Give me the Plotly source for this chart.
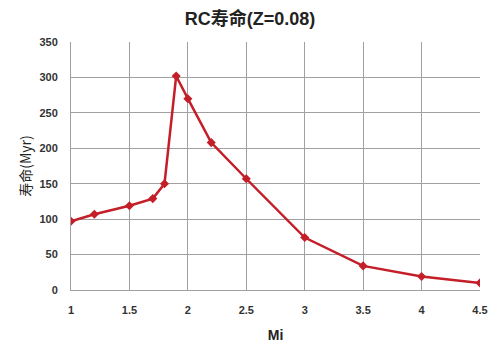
import plotly.graph_objects as go

mass = [1, 1.2, 1.5, 1.7, 1.8, 1.9, 2.0, 2.2, 2.5, 3.0, 3.5, 4.0, 4.5]
lifetime = [97, 107, 119, 129, 150, 302, 270, 208, 157, 74, 34, 19, 10]
x_ticks = [1, 1.5, 2, 2.5, 3, 3.5, 4, 4.5]
x_tick_labels = ["1", "1.5", "2", "2.5", "3", "3.5", "4", "4.5"]
y_ticks = [0, 50, 100, 150, 200, 250, 300, 350]

fig = go.Figure()
fig.add_trace(go.Scatter(
    x=mass, y=lifetime, mode="lines+markers",
    line=dict(color="#c41e28", width=2.5),
    marker=dict(symbol="diamond", size=7, color="#c41e28"),
    showlegend=False,
))

font_family = "Liberation Sans, Arial, Noto Sans CJK SC, sans-serif"
fig.update_layout(
    width=500, height=352,
    margin=dict(l=71, r=18, t=42, b=60),
    paper_bgcolor="white", plot_bgcolor="white",
    title=dict(text="RC寿命(Z=0.08)", x=0.5, xanchor="center", y=0.948, yanchor="middle",
               font=dict(family=font_family, size=18, color="#222", weight="bold")),
    font=dict(family=font_family),
)
fig.update_xaxes(
    range=[1, 4.5], tickvals=x_ticks, ticktext=x_tick_labels,
    showgrid=True, gridcolor="#a0a0a0", gridwidth=1,
    showline=True, linecolor="#a0a0a0", zeroline=False,
    tickfont=dict(size=11, color="#333", weight="bold"),
    ticks="", ticklabelstandoff=10,
    title=dict(text="Mi", font=dict(size=14, color="#222", weight="bold"), standoff=14),
)
fig.update_yaxes(
    range=[0, 350], tickvals=y_ticks,
    showgrid=True, gridcolor="#a0a0a0", gridwidth=1,
    showline=True, linecolor="#a0a0a0", zeroline=False,
    tickfont=dict(size=11, color="#333", weight="bold"),
    ticks="", ticklabelstandoff=10,
    title=dict(text="寿命(Myr)", font=dict(family="Noto Sans CJK SC, sans-serif", size=14, color="#222"), standoff=4),
)
fig.write_html("out.html")
